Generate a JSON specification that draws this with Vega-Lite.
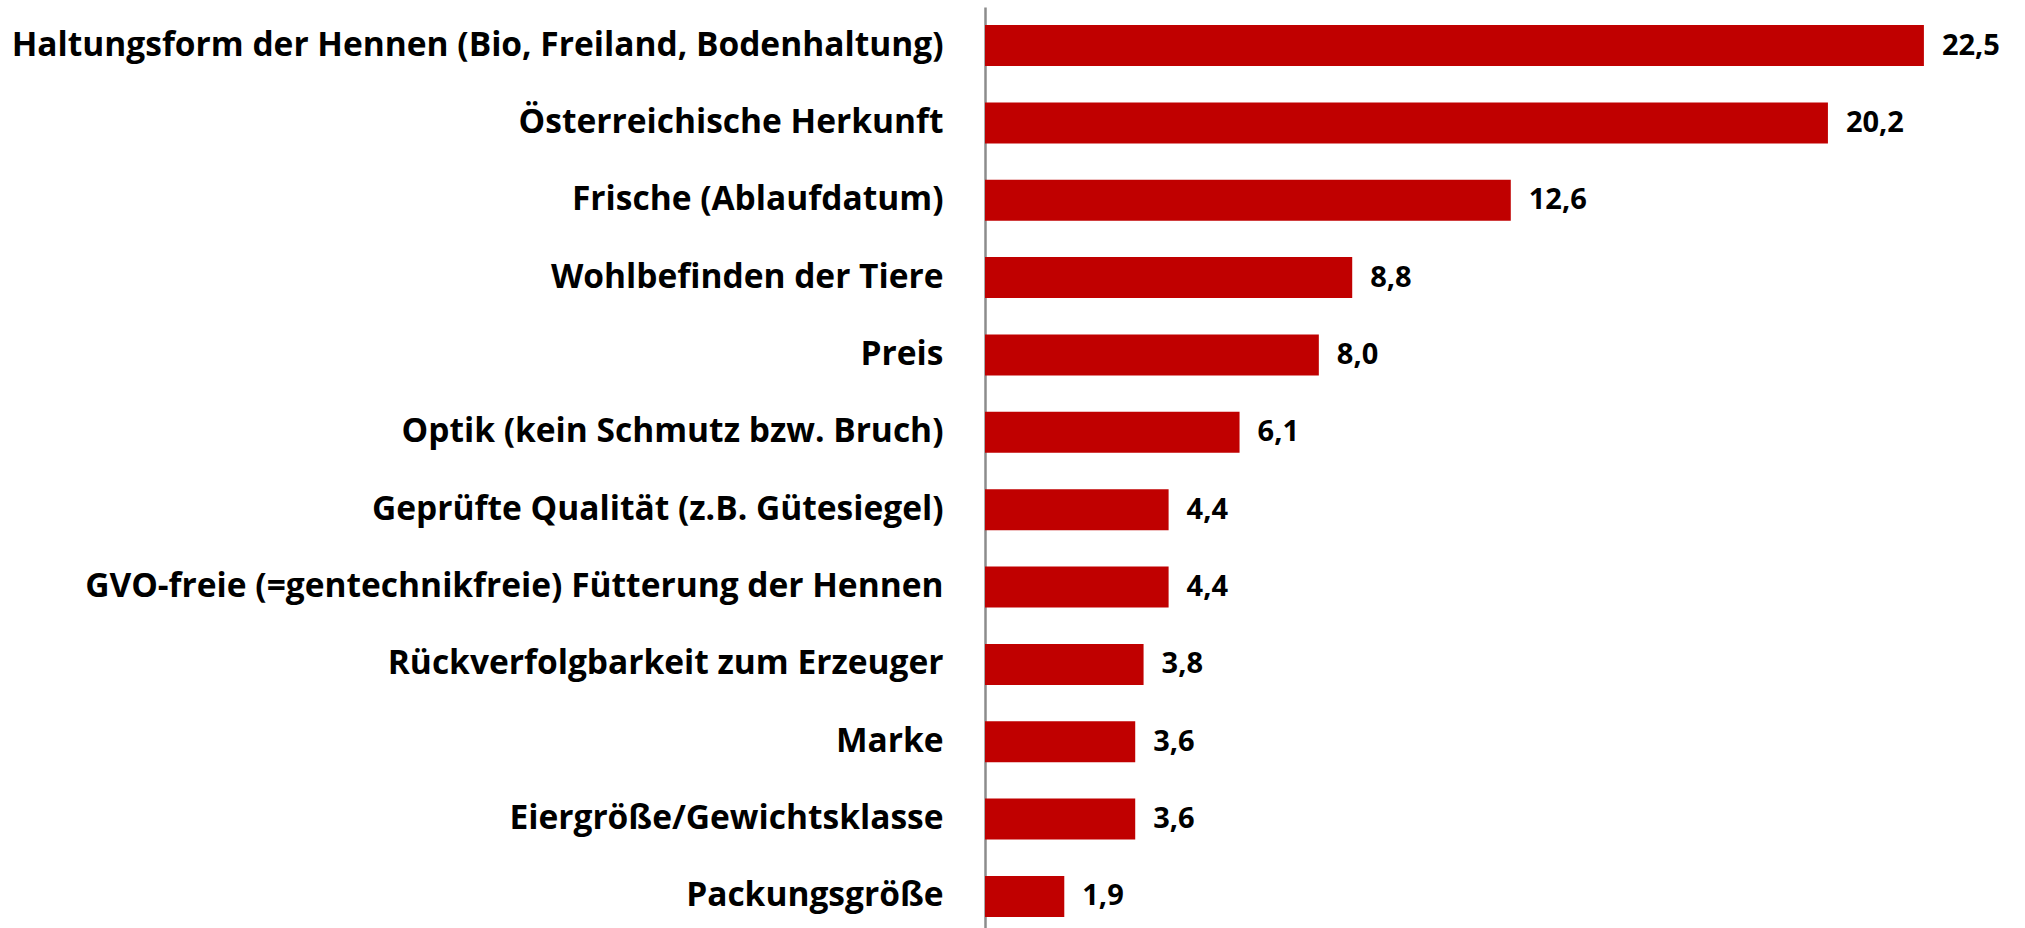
{
  "$schema": "https://vega.github.io/schema/vega-lite/v6.json",
  "width": 1001.5,
  "height": 928,
  "autosize": {"type": "none"},
  "padding": {"left": 985, "top": 7, "right": 38.5, "bottom": 0},
  "background": "white",
  "config": {
    "view": {"stroke": null},
    "locale": {"number": {"decimal": ",", "thousands": ".", "grouping": [3], "currency": ["", " €"]}}
  },
  "data": {
    "values": [
      {"kriterium": "Haltungsform der Hennen (Bio, Freiland, Bodenhaltung)", "wert": 22.5},
      {"kriterium": "Österreichische Herkunft", "wert": 20.2},
      {"kriterium": "Frische (Ablaufdatum)", "wert": 12.6},
      {"kriterium": "Wohlbefinden der Tiere", "wert": 8.8},
      {"kriterium": "Preis", "wert": 8.0},
      {"kriterium": "Optik (kein Schmutz bzw. Bruch)", "wert": 6.1},
      {"kriterium": "Geprüfte Qualität (z.B. Gütesiegel)", "wert": 4.4},
      {"kriterium": "GVO-freie (=gentechnikfreie) Fütterung der Hennen", "wert": 4.4},
      {"kriterium": "Rückverfolgbarkeit zum Erzeuger", "wert": 3.8},
      {"kriterium": "Marke", "wert": 3.6},
      {"kriterium": "Eiergröße/Gewichtsklasse", "wert": 3.6},
      {"kriterium": "Packungsgröße", "wert": 1.9}
    ]
  },
  "encoding": {
    "y": {
      "field": "kriterium",
      "type": "nominal",
      "sort": null,
      "scale": {"paddingInner": 0.47, "paddingOuter": 0.233},
      "axis": {
        "title": null,
        "ticks": false,
        "domain": true,
        "domainColor": "#8c8c8c",
        "domainWidth": 2.5,
        "labelFont": "Open Sans",
        "labelFontWeight": "bold",
        "labelFontSize": 33.5,
        "labelColor": "#000000",
        "labelPadding": 42,
        "labelLimit": 1000
      }
    },
    "x": {
      "field": "wert",
      "type": "quantitative",
      "scale": {"domain": [0, 24], "nice": false},
      "axis": null
    }
  },
  "layer": [
    {"mark": {"type": "bar", "color": "#C00000"}},
    {
      "mark": {"type": "text", "align": "left", "baseline": "middle", "dx": 18, "font": "Open Sans", "fontWeight": "bold", "fontSize": 29, "color": "#000000"},
      "encoding": {"text": {"field": "wert", "type": "quantitative", "format": ".1f"}}
    }
  ]
}
